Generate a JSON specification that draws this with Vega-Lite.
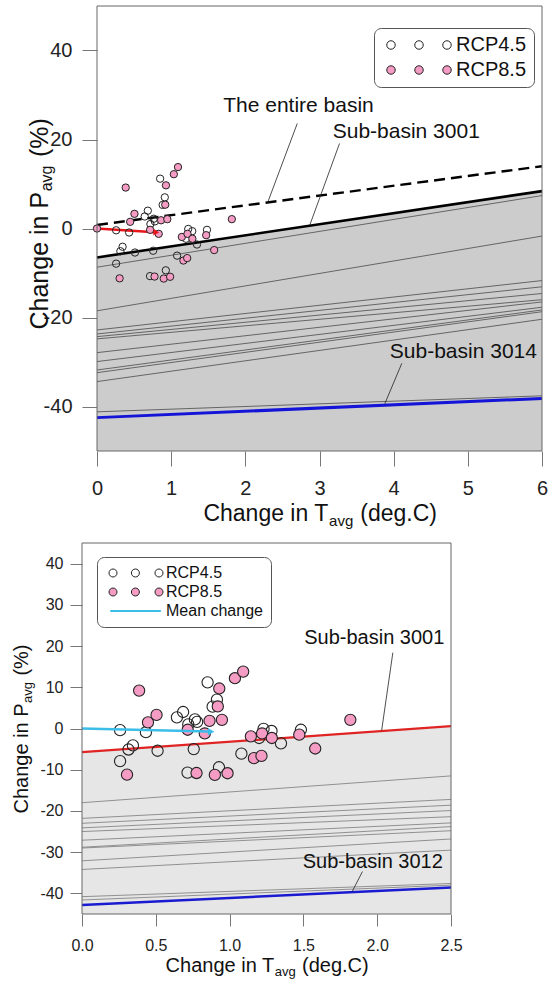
{
  "$schema": "https://vega.github.io/schema/vega-lite/v6.json",
  "width": 549,
  "height": 981,
  "autosize": {"type": "none"},
  "padding": 0,
  "background": "white",
  "config": {"font": "Liberation Sans", "view": {"stroke": null}},
  "datasets": {
    "pts": [
      {"s": "RCP4.5", "dT": 0.258, "dP": -0.4},
      {"s": "RCP4.5", "dT": 0.258, "dP": -7.9},
      {"s": "RCP4.5", "dT": 0.315, "dP": -5.1},
      {"s": "RCP4.5", "dT": 0.345, "dP": -4.1},
      {"s": "RCP4.5", "dT": 0.433, "dP": -0.9},
      {"s": "RCP4.5", "dT": 0.512, "dP": -5.4},
      {"s": "RCP4.5", "dT": 0.643, "dP": 2.7},
      {"s": "RCP4.5", "dT": 0.685, "dP": 4.0},
      {"s": "RCP4.5", "dT": 0.72, "dP": 1.0},
      {"s": "RCP4.5", "dT": 0.715, "dP": -10.7},
      {"s": "RCP4.5", "dT": 0.757, "dP": -5.0},
      {"s": "RCP4.5", "dT": 0.765, "dP": 2.2},
      {"s": "RCP4.5", "dT": 0.78, "dP": 1.6},
      {"s": "RCP4.5", "dT": 0.851, "dP": 11.2},
      {"s": "RCP4.5", "dT": 0.914, "dP": 7.0},
      {"s": "RCP4.5", "dT": 0.885, "dP": 5.3},
      {"s": "RCP4.5", "dT": 0.928, "dP": -9.4},
      {"s": "RCP4.5", "dT": 1.08, "dP": -6.1},
      {"s": "RCP4.5", "dT": 1.23, "dP": -0.1},
      {"s": "RCP4.5", "dT": 1.284, "dP": -0.6},
      {"s": "RCP4.5", "dT": 1.2, "dP": -2.3},
      {"s": "RCP4.5", "dT": 1.348, "dP": -3.6},
      {"s": "RCP4.5", "dT": 1.483, "dP": -0.3},
      {"s": "RCP8.5", "dT": 0.387, "dP": 9.2},
      {"s": "RCP8.5", "dT": 0.305, "dP": -11.2},
      {"s": "RCP8.5", "dT": 0.447, "dP": 1.5},
      {"s": "RCP8.5", "dT": 0.505, "dP": 3.3},
      {"s": "RCP8.5", "dT": 0.716, "dP": -0.3},
      {"s": "RCP8.5", "dT": 0.776, "dP": -10.8},
      {"s": "RCP8.5", "dT": 0.832, "dP": -1.2},
      {"s": "RCP8.5", "dT": 0.864, "dP": 1.85},
      {"s": "RCP8.5", "dT": 0.9, "dP": -11.25},
      {"s": "RCP8.5", "dT": 0.93, "dP": 9.7},
      {"s": "RCP8.5", "dT": 0.92, "dP": 5.35},
      {"s": "RCP8.5", "dT": 0.948, "dP": 2.1},
      {"s": "RCP8.5", "dT": 0.986, "dP": -10.85},
      {"s": "RCP8.5", "dT": 1.036, "dP": 12.2},
      {"s": "RCP8.5", "dT": 1.092, "dP": 13.8},
      {"s": "RCP8.5", "dT": 1.144, "dP": -1.9},
      {"s": "RCP8.5", "dT": 1.165, "dP": -7.2},
      {"s": "RCP8.5", "dT": 1.216, "dP": -6.65},
      {"s": "RCP8.5", "dT": 1.22, "dP": -1.2},
      {"s": "RCP8.5", "dT": 1.286, "dP": -2.3},
      {"s": "RCP8.5", "dT": 1.472, "dP": -1.5},
      {"s": "RCP8.5", "dT": 1.58, "dP": -4.85},
      {"s": "RCP8.5", "dT": 1.818, "dP": 2.1}
    ]
  },
  "layer": [
    {
      "layer": [
        {
          "data": {"values": [{"dT": 0, "dP": -6.5}, {"dT": 6, "dP": 8.4}]},
          "mark": {"type": "area", "color": "#cccccc"},
          "encoding": {
            "x": {"field": "dT", "type": "quantitative", "scale": {"domain": [0, 6], "range": [97, 542], "nice": false, "zero": false},
              "axis": {"orient": "bottom", "offset": -530, "values": [0, 1, 2, 3, 4, 5, 6], "labelExpr": "'' + datum.value", "labelFontSize": 20, "labelPadding": 12, "labelColor": "#222", "labelFlush": false, "labelOverlap": false, "labelAngle": 0, "tickSize": 15, "tickColor": "#777", "domain": false, "grid": false,
                "title": "Change in T", "titleFontSize": 23, "titleFontWeight": "normal", "titleColor": "#111", "titleX": 327.8, "titleY": 69, "titleBaseline": "alphabetic", "titleAlign": "right"}},
            "y": {"field": "dP", "type": "quantitative", "scale": {"domain": [-50, 50], "range": [451, 6], "nice": false, "zero": false},
              "axis": {"orient": "left", "offset": -97, "values": [-40, -20, 0, 20, 40], "labelExpr": "'' + datum.value", "labelFontSize": 20, "labelPadding": 10, "labelColor": "#222", "labelFlush": false, "labelOverlap": false, "tickSize": 15, "tickColor": "#777", "domain": false, "grid": false,
                "title": "Change in P", "titleFontSize": 25, "titleFontWeight": "normal", "titleColor": "#111", "titleX": -50, "titleY": 191.4, "titleAngle": 270, "titleBaseline": "alphabetic", "titleAlign": "right"}},
            "y2": {"datum": -50}
          }
        },
        {
          "data": {"values": [
            {"x0": 0, "y0": -8.7, "x1": 6, "y1": 7.4},
            {"x0": 0, "y0": -18.5, "x1": 6, "y1": -1.7},
            {"x0": 0, "y0": -22.8, "x1": 6, "y1": -11.7},
            {"x0": 0, "y0": -23.7, "x1": 6, "y1": -13.1},
            {"x0": 0, "y0": -24.3, "x1": 6, "y1": -14.6},
            {"x0": 0, "y0": -24.8, "x1": 6, "y1": -16.0},
            {"x0": 0, "y0": -27.9, "x1": 6, "y1": -16.5},
            {"x0": 0, "y0": -29.9, "x1": 6, "y1": -17.7},
            {"x0": 0, "y0": -31.8, "x1": 6, "y1": -18.3},
            {"x0": 0, "y0": -32.4, "x1": 6, "y1": -18.7},
            {"x0": 0, "y0": -34.4, "x1": 6, "y1": -20.4},
            {"x0": 0, "y0": -41.2, "x1": 6, "y1": -37.6}
          ]},
          "mark": {"type": "rule", "color": "#4a4a4a", "strokeWidth": 0.8},
          "encoding": {
            "x": {"field": "x0", "type": "quantitative", "scale": {"domain": [0, 6], "range": [97, 542], "nice": false, "zero": false}, "axis": null},
            "y": {"field": "y0", "type": "quantitative", "scale": {"domain": [-50, 50], "range": [451, 6], "nice": false, "zero": false}, "axis": null},
            "x2": {"field": "x1"}, "y2": {"field": "y1"}
          }
        },
        {
          "data": {"values": [{"x0": 0, "y0": -42.5, "x1": 6, "y1": -38.2}]},
          "mark": {"type": "rule", "color": "#1414d8", "strokeWidth": 3},
          "encoding": {
            "x": {"field": "x0", "type": "quantitative", "scale": {"domain": [0, 6], "range": [97, 542], "nice": false, "zero": false}, "axis": null},
            "y": {"field": "y0", "type": "quantitative", "scale": {"domain": [-50, 50], "range": [451, 6], "nice": false, "zero": false}, "axis": null},
            "x2": {"field": "x1"}, "y2": {"field": "y1"}
          }
        },
        {
          "data": {"values": [{"x0": 0, "y0": -6.5, "x1": 6, "y1": 8.4}]},
          "mark": {"type": "rule", "color": "#000000", "strokeWidth": 2.6},
          "encoding": {
            "x": {"field": "x0", "type": "quantitative", "scale": {"domain": [0, 6], "range": [97, 542], "nice": false, "zero": false}, "axis": null},
            "y": {"field": "y0", "type": "quantitative", "scale": {"domain": [-50, 50], "range": [451, 6], "nice": false, "zero": false}, "axis": null},
            "x2": {"field": "x1"}, "y2": {"field": "y1"}
          }
        },
        {
          "data": {"values": [{"x0": 0, "y0": 0.8, "x1": 6, "y1": 14.0}]},
          "mark": {"type": "rule", "color": "#000000", "strokeWidth": 2.4, "strokeDash": [11, 6]},
          "encoding": {
            "x": {"field": "x0", "type": "quantitative", "scale": {"domain": [0, 6], "range": [97, 542], "nice": false, "zero": false}, "axis": null},
            "y": {"field": "y0", "type": "quantitative", "scale": {"domain": [-50, 50], "range": [451, 6], "nice": false, "zero": false}, "axis": null},
            "x2": {"field": "x1"}, "y2": {"field": "y1"}
          }
        },
        {
          "data": {"values": [
            {"x0": 2.70, "y0": 23.6, "x1": 2.30, "y1": 5.8},
            {"x0": 3.27, "y0": 19.1, "x1": 2.87, "y1": 0.8},
            {"x0": 4.11, "y0": -30.3, "x1": 3.88, "y1": -39.4}
          ]},
          "mark": {"type": "rule", "color": "#222", "strokeWidth": 0.8},
          "encoding": {
            "x": {"field": "x0", "type": "quantitative", "scale": {"domain": [0, 6], "range": [97, 542], "nice": false, "zero": false},
              "axis": {"orient": "bottom", "offset": -530, "labels": false, "ticks": false, "domain": false, "grid": false, "title": "avg", "titleFontSize": 15, "titleFontWeight": "normal", "titleColor": "#111", "titleX": 328.6, "titleY": 74.5, "titleBaseline": "alphabetic", "titleAlign": "left"}},
            "y": {"field": "y0", "type": "quantitative", "scale": {"domain": [-50, 50], "range": [451, 6], "nice": false, "zero": false},
              "axis": {"orient": "left", "offset": -97, "labels": false, "ticks": false, "domain": false, "grid": false, "title": "avg", "titleFontSize": 16, "titleFontWeight": "normal", "titleColor": "#111", "titleX": -46, "titleY": 190.8, "titleAngle": 270, "titleBaseline": "alphabetic", "titleAlign": "left"}},
            "x2": {"field": "x1"}, "y2": {"field": "y1"}
          }
        },
        {
          "data": {"values": [
            {"t": "The entire basin", "x": 2.717, "y": 27.6},
            {"t": "Sub-basin 3001", "x": 4.17, "y": 21.7},
            {"t": "Sub-basin 3014", "x": 4.94, "y": -27.7}
          ]},
          "mark": {"type": "text", "fontSize": 21, "color": "#111", "align": "center", "baseline": "middle"},
          "encoding": {
            "x": {"field": "x", "type": "quantitative", "scale": {"domain": [0, 6], "range": [97, 542], "nice": false, "zero": false},
              "axis": {"orient": "bottom", "offset": -530, "labels": false, "ticks": false, "domain": false, "grid": false, "title": "(deg.C)", "titleFontSize": 23, "titleFontWeight": "normal", "titleColor": "#111", "titleX": 359.8, "titleY": 69, "titleBaseline": "alphabetic", "titleAlign": "left"}},
            "y": {"field": "y", "type": "quantitative", "scale": {"domain": [-50, 50], "range": [451, 6], "nice": false, "zero": false},
              "axis": {"orient": "left", "offset": -97, "labels": false, "ticks": false, "domain": false, "grid": false, "title": "(%)", "titleFontSize": 25, "titleFontWeight": "normal", "titleColor": "#111", "titleX": -50, "titleY": 156.6, "titleAngle": 270, "titleBaseline": "alphabetic", "titleAlign": "left"}},
            "text": {"field": "t"}
          }
        },
        {
          "data": {"values": [{"x0": 0, "y0": 0, "x1": 0.78, "y1": -0.85}]},
          "mark": {"type": "rule", "color": "#e8161b", "strokeWidth": 2.5},
          "encoding": {
            "x": {"field": "x0", "type": "quantitative", "scale": {"domain": [0, 6], "range": [97, 542], "nice": false, "zero": false}, "axis": null},
            "y": {"field": "y0", "type": "quantitative", "scale": {"domain": [-50, 50], "range": [451, 6], "nice": false, "zero": false}, "axis": null},
            "x2": {"field": "x1"}, "y2": {"field": "y1"}
          }
        },
        {
          "data": {"name": "pts"},
          "mark": {"type": "point", "shape": "circle", "filled": true, "size": 54, "stroke": "#222", "strokeWidth": 1, "opacity": 1},
          "encoding": {
            "x": {"field": "dT", "type": "quantitative", "scale": {"domain": [0, 6], "range": [97, 542], "nice": false, "zero": false}, "axis": null},
            "y": {"field": "dP", "type": "quantitative", "scale": {"domain": [-50, 50], "range": [451, 6], "nice": false, "zero": false}, "axis": null},
            "fill": {"field": "s", "type": "nominal", "scale": {"domain": ["RCP4.5", "RCP8.5"], "range": ["transparent", "#f59cc5"]},
              "legend": {"orient": "none", "legendX": 374, "legendY": 28, "title": null, "padding": 7, "cornerRadius": 7, "strokeColor": "#555", "fillColor": "white",
                "labelFont": "Liberation Sans", "labelFontSize": 20, "labelColor": "#111", "labelOffset": 55, "rowPadding": 5,
                "symbolSize": 72, "symbolStrokeWidth": 1, "symbolStrokeColor": "#222",
                "symbolType": "M-1,0A1,1 0 1,0 1,0A1,1 0 1,0 -1,0ZM5.6,0A1,1 0 1,0 7.6,0A1,1 0 1,0 5.6,0ZM12.2,0A1,1 0 1,0 14.2,0A1,1 0 1,0 12.2,0Z"}}
          }
        },
        {
          "data": {"values": [{"x": 0.80, "y": -0.87}]},
          "mark": {"type": "point", "shape": "triangle-right", "filled": true, "size": 45, "color": "#e8161b", "angle": 4, "opacity": 1},
          "encoding": {
            "x": {"field": "x", "type": "quantitative", "scale": {"domain": [0, 6], "range": [97, 542], "nice": false, "zero": false}, "axis": null},
            "y": {"field": "y", "type": "quantitative", "scale": {"domain": [-50, 50], "range": [451, 6], "nice": false, "zero": false}, "axis": null}
          }
        },
        {
          "data": {"values": [{"x": 0, "y": 0}]},
          "mark": {"type": "point", "shape": "circle", "filled": true, "size": 54, "fill": "#f59cc5", "stroke": "#222", "strokeWidth": 1, "opacity": 1},
          "encoding": {
            "x": {"field": "x", "type": "quantitative", "scale": {"domain": [0, 6], "range": [97, 542], "nice": false, "zero": false}, "axis": null},
            "y": {"field": "y", "type": "quantitative", "scale": {"domain": [-50, 50], "range": [451, 6], "nice": false, "zero": false}, "axis": null}
          }
        },
        {
          "data": {"values": [{}]},
          "mark": {"type": "rect", "fill": "transparent", "stroke": "#666", "strokeWidth": 1},
          "encoding": {
            "x": {"datum": 0, "type": "quantitative", "scale": {"domain": [0, 6], "range": [97, 542], "nice": false, "zero": false}, "axis": null},
            "x2": {"datum": 6},
            "y": {"datum": -50, "type": "quantitative", "scale": {"domain": [-50, 50], "range": [451, 6], "nice": false, "zero": false}, "axis": null},
            "y2": {"datum": 50}
          }
        }
      ],
      "resolve": {"axis": {"x": "independent", "y": "independent"}}
    },
    {
      "layer": [
        {
          "data": {"values": [{"dT": 0, "dP": -5.74}, {"dT": 2.5, "dP": 0.57}]},
          "mark": {"type": "area", "color": "#e6e6e6"},
          "encoding": {
            "x": {"field": "dT", "type": "quantitative", "scale": {"domain": [0, 2.5], "range": [82, 451], "nice": false, "zero": false},
              "axis": {"orient": "bottom", "offset": -67, "values": [0, 0.5, 1, 1.5, 2, 2.5], "labelExpr": "format(datum.value, '.1f')", "labelFontSize": 16, "labelPadding": 11, "labelColor": "#222", "labelFlush": false, "labelOverlap": false, "labelAngle": 0, "tickSize": 12, "tickColor": "#777", "domain": false, "grid": false,
                "title": "Change in T", "titleFontSize": 20, "titleFontWeight": "normal", "titleColor": "#111", "titleX": 273.7, "titleY": 57.7, "titleBaseline": "alphabetic", "titleAlign": "right"}},
            "y": {"field": "dP", "type": "quantitative", "scale": {"domain": [-45, 45], "range": [914, 543], "nice": false, "zero": false},
              "axis": {"orient": "left", "offset": -82, "values": [-40, -30, -20, -10, 0, 10, 20, 30, 40], "labelExpr": "'' + datum.value", "labelFontSize": 16, "labelPadding": 7, "labelColor": "#222", "labelFlush": false, "labelOverlap": false, "tickSize": 12, "tickColor": "#777", "domain": false, "grid": false,
                "title": "Change in P", "titleFontSize": 20, "titleFontWeight": "normal", "titleColor": "#111", "titleX": -54.5, "titleY": 702.9, "titleAngle": 270, "titleBaseline": "alphabetic", "titleAlign": "right"}},
            "y2": {"datum": -45}
          }
        },
        {
          "data": {"values": [
            {"x0": 0, "y0": -18.0, "x1": 2.5, "y1": -11.5},
            {"x0": 0, "y0": -21.8, "x1": 2.5, "y1": -17.2},
            {"x0": 0, "y0": -23.0, "x1": 2.5, "y1": -18.6},
            {"x0": 0, "y0": -24.1, "x1": 2.5, "y1": -19.9},
            {"x0": 0, "y0": -25.0, "x1": 2.5, "y1": -21.4},
            {"x0": 0, "y0": -27.1, "x1": 2.5, "y1": -22.9},
            {"x0": 0, "y0": -28.8, "x1": 2.5, "y1": -23.8},
            {"x0": 0, "y0": -29.0, "x1": 2.5, "y1": -24.8},
            {"x0": 0, "y0": -32.1, "x1": 2.5, "y1": -26.8},
            {"x0": 0, "y0": -34.2, "x1": 2.5, "y1": -29.5},
            {"x0": 0, "y0": -40.8, "x1": 2.5, "y1": -37.6},
            {"x0": 0, "y0": -41.6, "x1": 2.5, "y1": -38.0}
          ]},
          "mark": {"type": "rule", "color": "#7a7a7a", "strokeWidth": 0.8},
          "encoding": {
            "x": {"field": "x0", "type": "quantitative", "scale": {"domain": [0, 2.5], "range": [82, 451], "nice": false, "zero": false}, "axis": null},
            "y": {"field": "y0", "type": "quantitative", "scale": {"domain": [-45, 45], "range": [914, 543], "nice": false, "zero": false}, "axis": null},
            "x2": {"field": "x1"}, "y2": {"field": "y1"}
          }
        },
        {
          "data": {"values": [{"x0": 0, "y0": -42.8, "x1": 2.5, "y1": -38.6}]},
          "mark": {"type": "rule", "color": "#1a1ad0", "strokeWidth": 2.5},
          "encoding": {
            "x": {"field": "x0", "type": "quantitative", "scale": {"domain": [0, 2.5], "range": [82, 451], "nice": false, "zero": false}, "axis": null},
            "y": {"field": "y0", "type": "quantitative", "scale": {"domain": [-45, 45], "range": [914, 543], "nice": false, "zero": false}, "axis": null},
            "x2": {"field": "x1"}, "y2": {"field": "y1"}
          }
        },
        {
          "data": {"values": [{"x0": 0, "y0": -5.74, "x1": 2.5, "y1": 0.57}]},
          "mark": {"type": "rule", "color": "#e02424", "strokeWidth": 2.2},
          "encoding": {
            "x": {"field": "x0", "type": "quantitative", "scale": {"domain": [0, 2.5], "range": [82, 451], "nice": false, "zero": false}, "axis": null},
            "y": {"field": "y0", "type": "quantitative", "scale": {"domain": [-45, 45], "range": [914, 543], "nice": false, "zero": false}, "axis": null},
            "x2": {"field": "x1"}, "y2": {"field": "y1"}
          }
        },
        {
          "data": {"values": [
            {"x0": 2.106, "y0": 18.4, "x1": 2.03, "y1": -0.5},
            {"x0": 1.90, "y0": -34.7, "x1": 1.83, "y1": -39.6}
          ]},
          "mark": {"type": "rule", "color": "#222", "strokeWidth": 0.8},
          "encoding": {
            "x": {"field": "x0", "type": "quantitative", "scale": {"domain": [0, 2.5], "range": [82, 451], "nice": false, "zero": false},
              "axis": {"orient": "bottom", "offset": -67, "labels": false, "ticks": false, "domain": false, "grid": false, "title": "avg", "titleFontSize": 13, "titleFontWeight": "normal", "titleColor": "#111", "titleX": 274.2, "titleY": 61.7, "titleBaseline": "alphabetic", "titleAlign": "left"}},
            "y": {"field": "y0", "type": "quantitative", "scale": {"domain": [-45, 45], "range": [914, 543], "nice": false, "zero": false},
              "axis": {"orient": "left", "offset": -82, "labels": false, "ticks": false, "domain": false, "grid": false, "title": "avg", "titleFontSize": 13, "titleFontWeight": "normal", "titleColor": "#111", "titleX": -51, "titleY": 702.4, "titleAngle": 270, "titleBaseline": "alphabetic", "titleAlign": "left"}},
            "x2": {"field": "x1"}, "y2": {"field": "y1"}
          }
        },
        {
          "data": {"values": [
            {"t": "Sub-basin 3001", "x": 1.98, "y": 21.9},
            {"t": "Sub-basin 3012", "x": 1.97, "y": -32.5}
          ]},
          "mark": {"type": "text", "fontSize": 20, "color": "#111", "align": "center", "baseline": "middle"},
          "encoding": {
            "x": {"field": "x", "type": "quantitative", "scale": {"domain": [0, 2.5], "range": [82, 451], "nice": false, "zero": false},
              "axis": {"orient": "bottom", "offset": -67, "labels": false, "ticks": false, "domain": false, "grid": false, "title": "(deg.C)", "titleFontSize": 20, "titleFontWeight": "normal", "titleColor": "#111", "titleX": 301.5, "titleY": 57.7, "titleBaseline": "alphabetic", "titleAlign": "left"}},
            "y": {"field": "y", "type": "quantitative", "scale": {"domain": [-45, 45], "range": [914, 543], "nice": false, "zero": false},
              "axis": {"orient": "left", "offset": -82, "labels": false, "ticks": false, "domain": false, "grid": false, "title": "(%)", "titleFontSize": 20, "titleFontWeight": "normal", "titleColor": "#111", "titleX": -54.5, "titleY": 675.1, "titleAngle": 270, "titleBaseline": "alphabetic", "titleAlign": "left"}},
            "text": {"field": "t"}
          }
        },
        {
          "data": {"name": "pts"},
          "mark": {"type": "point", "filled": true, "size": 0, "opacity": 1},
          "encoding": {
            "x": {"field": "dT", "type": "quantitative", "scale": {"domain": [0, 2.5], "range": [82, 451], "nice": false, "zero": false}, "axis": null},
            "y": {"field": "dP", "type": "quantitative", "scale": {"domain": [-45, 45], "range": [914, 543], "nice": false, "zero": false}, "axis": null},
            "fill": {"field": "s", "type": "nominal",
              "scale": {"domain": ["RCP4.5", "RCP8.5", "Mean change"], "range": ["transparent", "#f59cc5", "#3bbde8"]},
              "legend": {"orient": "none", "legendX": 97, "legendY": 557, "title": null, "padding": 8, "cornerRadius": 7, "strokeColor": "#555", "fillColor": "white",
                "labelFont": "Liberation Sans", "labelFontSize": 16, "labelColor": "#111", "labelOffset": 45, "rowPadding": 3, "symbolSize": 64, "symbolStrokeWidth": 1}},
            "stroke": {"field": "s", "type": "nominal",
              "scale": {"domain": ["RCP4.5", "RCP8.5", "Mean change"], "range": ["#222222", "#222222", "#3bbde8"]},
              "legend": {"orient": "none", "legendX": 97, "legendY": 557, "title": null, "padding": 8, "cornerRadius": 7, "strokeColor": "#555", "fillColor": "white",
                "labelFont": "Liberation Sans", "labelFontSize": 16, "labelColor": "#111", "labelOffset": 45, "rowPadding": 3, "symbolSize": 64, "symbolStrokeWidth": 1}},
            "shape": {"field": "s", "type": "nominal",
              "scale": {"domain": ["RCP4.5", "RCP8.5", "Mean change"], "range": [
                "M-1,0A1,1 0 1,0 1,0A1,1 0 1,0 -1,0ZM4.6,0A1,1 0 1,0 6.6,0A1,1 0 1,0 4.6,0ZM10.5,0A1,1 0 1,0 12.5,0A1,1 0 1,0 10.5,0Z",
                "M-1,0A1,1 0 1,0 1,0A1,1 0 1,0 -1,0ZM4.6,0A1,1 0 1,0 6.6,0A1,1 0 1,0 4.6,0ZM10.5,0A1,1 0 1,0 12.5,0A1,1 0 1,0 10.5,0Z",
                "M-0.6,-0.12L11.9,-0.12L11.9,0.12L-0.6,0.12Z"]},
              "legend": {"orient": "none", "legendX": 97, "legendY": 557, "title": null, "padding": 8, "cornerRadius": 7, "strokeColor": "#555", "fillColor": "white",
                "labelFont": "Liberation Sans", "labelFontSize": 16, "labelColor": "#111", "labelOffset": 45, "rowPadding": 3, "symbolSize": 64, "symbolStrokeWidth": 1}}
          }
        },
        {
          "data": {"name": "pts"},
          "mark": {"type": "point", "shape": "circle", "filled": true, "size": 126, "stroke": "#222", "strokeWidth": 1.1, "opacity": 1},
          "encoding": {
            "x": {"field": "dT", "type": "quantitative", "scale": {"domain": [0, 2.5], "range": [82, 451], "nice": false, "zero": false}, "axis": null},
            "y": {"field": "dP", "type": "quantitative", "scale": {"domain": [-45, 45], "range": [914, 543], "nice": false, "zero": false}, "axis": null},
            "color": {"field": "s", "type": "nominal", "scale": {"domain": ["RCP4.5", "RCP8.5"], "range": ["transparent", "#f59cc5"]}, "legend": null}
          }
        },
        {
          "data": {"values": [{"x0": 0, "y0": 0, "x1": 0.86, "y1": -0.75}]},
          "mark": {"type": "rule", "color": "#3bbde8", "strokeWidth": 2.5},
          "encoding": {
            "x": {"field": "x0", "type": "quantitative", "scale": {"domain": [0, 2.5], "range": [82, 451], "nice": false, "zero": false}, "axis": null},
            "y": {"field": "y0", "type": "quantitative", "scale": {"domain": [-45, 45], "range": [914, 543], "nice": false, "zero": false}, "axis": null},
            "x2": {"field": "x1"}, "y2": {"field": "y1"}
          }
        },
        {
          "data": {"values": [{"x": 0.875, "y": -0.77}]},
          "mark": {"type": "point", "shape": "triangle-right", "filled": true, "size": 55, "color": "#3bbde8", "angle": 1.5, "opacity": 1},
          "encoding": {
            "x": {"field": "x", "type": "quantitative", "scale": {"domain": [0, 2.5], "range": [82, 451], "nice": false, "zero": false}, "axis": null},
            "y": {"field": "y", "type": "quantitative", "scale": {"domain": [-45, 45], "range": [914, 543], "nice": false, "zero": false}, "axis": null}
          }
        },
        {
          "data": {"values": [{}]},
          "mark": {"type": "rect", "fill": "transparent", "stroke": "#666", "strokeWidth": 1},
          "encoding": {
            "x": {"datum": 0, "type": "quantitative", "scale": {"domain": [0, 2.5], "range": [82, 451], "nice": false, "zero": false}, "axis": null},
            "x2": {"datum": 2.5},
            "y": {"datum": -45, "type": "quantitative", "scale": {"domain": [-45, 45], "range": [914, 543], "nice": false, "zero": false}, "axis": null},
            "y2": {"datum": 45}
          }
        }
      ],
      "resolve": {"axis": {"x": "independent", "y": "independent"}}
    }
  ],
  "resolve": {"scale": {"x": "independent", "y": "independent", "fill": "independent", "stroke": "independent", "shape": "independent", "color": "independent"}}
}
